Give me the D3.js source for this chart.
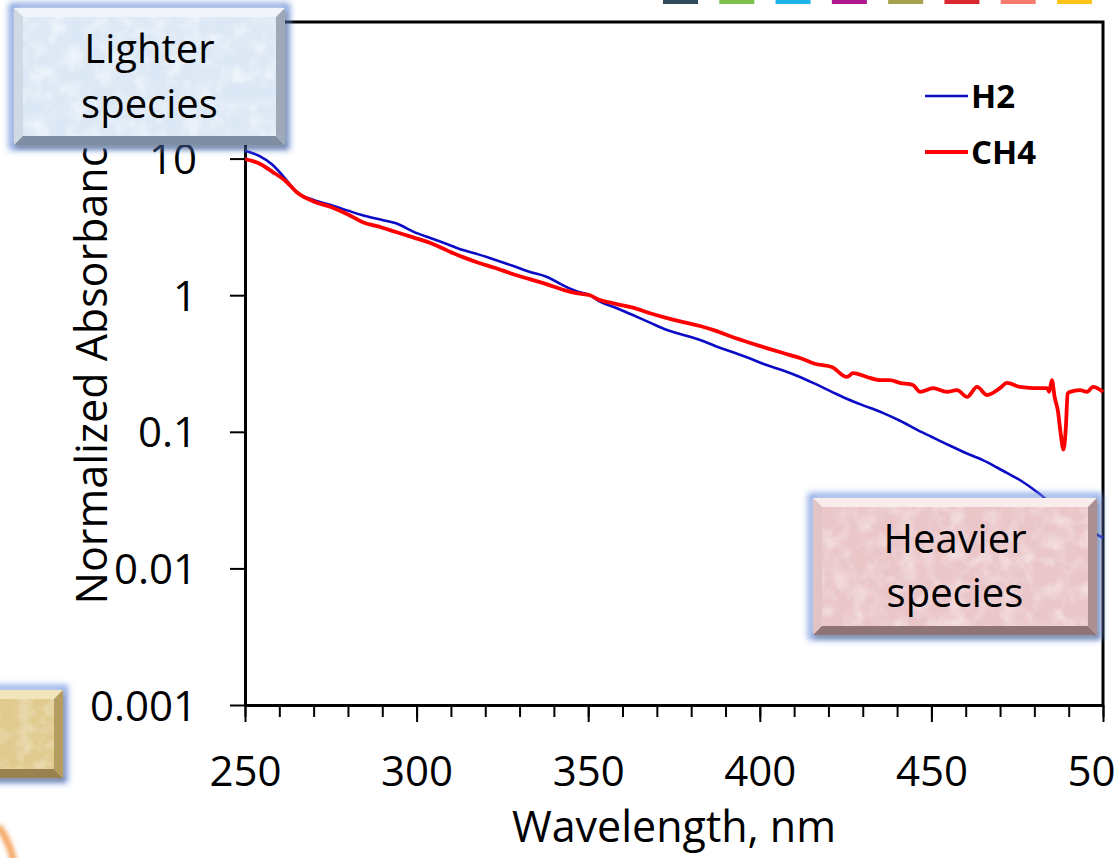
<!DOCTYPE html>
<html>
<head>
<meta charset="utf-8">
<script src="https://cdn.jsdelivr.net/npm/d3@7"></script>
<style>
  html, body { margin: 0; padding: 0; background: #ffffff; }
  svg { display: block; font-family: "Open Sans", "Liberation Sans", sans-serif; }
</style>
</head>
<body>
<svg id="chart" width="1115" height="858"></svg>
<script>
// ---- data -------------------------------------------------------------
const seriesNames = ["H2", "CH4"];
const seriesColors = ["#0b0bc6", "#ff0000"];

// H2 normalized absorbance spectrum
const h2Wavelength = [250, 254, 258, 262, 265, 270, 275, 280, 284, 290, 294, 299, 304, 309, 313.5, 318, 323, 328, 333, 338, 343, 347, 350.5, 353, 358, 363, 368, 373, 378, 382.6, 387, 392, 397, 402, 407, 411.7, 416, 421, 425, 429, 436, 441, 446, 450, 455, 460, 465, 469, 472, 476, 480, 483, 485, 488, 490, 493, 495, 498, 500];
const h2Absorbance = [11.4, 10.5, 9.0, 7.0, 5.7, 4.98, 4.57, 4.16, 3.86, 3.55, 3.36, 2.92, 2.62, 2.36, 2.14, 1.99, 1.81, 1.64, 1.48, 1.36, 1.17, 1.06, 1.0, 0.91, 0.81, 0.716, 0.63, 0.556, 0.51, 0.47, 0.425, 0.384, 0.345, 0.308, 0.28, 0.252, 0.225, 0.196, 0.176, 0.160, 0.137, 0.12, 0.103, 0.092, 0.080, 0.070, 0.062, 0.055, 0.050, 0.044, 0.0375, 0.0327, 0.029, 0.025, 0.0234, 0.021, 0.0198, 0.0178, 0.0167];

// CH4 normalized absorbance spectrum
const ch4Wavelength = [250, 254, 258, 262, 265, 270, 275, 280, 284, 290, 294, 299, 304, 309, 313.5, 318, 323, 328, 333, 338, 343, 347, 350.5, 353, 358, 363, 368, 373, 378, 382.6, 387, 392, 397, 402, 407, 411.7, 416, 421, 425.4, 427.2, 431.2, 435, 437.9, 440.8, 444.6, 446.7, 450.5, 454.5, 457.5, 460.4, 463.3, 466.2, 470, 472, 475.8, 479.6, 483.7, 484.3, 485.1, 485.9, 486.9, 487.6, 488.5, 489.2, 489.7, 490.4, 493.3, 495.3, 497.1, 500];
const ch4Absorbance = [9.93, 9.25, 8.0, 6.8, 5.7, 4.86, 4.42, 3.9, 3.45, 3.12, 2.90, 2.65, 2.41, 2.12, 1.90, 1.73, 1.58, 1.43, 1.31, 1.2, 1.09, 1.03, 1.0, 0.93, 0.865, 0.81, 0.738, 0.68, 0.632, 0.595, 0.55, 0.494, 0.449, 0.41, 0.376, 0.347, 0.315, 0.298, 0.252, 0.269, 0.252, 0.239, 0.239, 0.228, 0.220, 0.196, 0.209, 0.196, 0.202, 0.180, 0.213, 0.186, 0.209, 0.228, 0.213, 0.209, 0.209, 0.196, 0.239, 0.18, 0.14, 0.10, 0.074, 0.11, 0.19, 0.196, 0.202, 0.196, 0.213, 0.196];

const xMajorTicks = [250, 300, 350, 400, 450, 500];
const xMinorTicks = d3.range(250, 501, 10);
const yTicks = [0.001, 0.01, 0.1, 1, 10, 100];
const yTickLabels = ["0.001", "0.01", "0.1", "1", "10", "100"];

const xTitle = "Wavelength, nm";
const yTitle = "Normalized Absorbance";

// decorative colour tabs along the top edge of the slide
const tabColors = ["#2f4b5c", "#7cc24a", "#1fb2e6", "#b0188f", "#a5a24e", "#d7272f", "#f47a6b", "#fcc419"];

// ---- layout -----------------------------------------------------------
const svg = d3.select("#chart");
const W = 1115, H = 858;
const plot = { left: 245, right: 1103, top: 22, bottom: 705 };

const x = d3.scaleLinear().domain([250, 500]).range([plot.left, plot.right]);
const y = d3.scaleLog().domain([0.001, 100]).range([plot.bottom, plot.top]);

svg.append("rect").attr("width", W).attr("height", H).attr("fill", "#ffffff");

// ---- defs: blur + paper texture ---------------------------------------
const defs = svg.append("defs");
defs.append("filter").attr("id", "glow").attr("x", "-20%").attr("y", "-20%").attr("width", "140%").attr("height", "140%")
  .append("feGaussianBlur").attr("stdDeviation", 3);
defs.append("filter").attr("id", "softBlur").attr("x", "-50%").attr("y", "-50%").attr("width", "200%").attr("height", "200%")
  .append("feGaussianBlur").attr("stdDeviation", 2);
const tex = defs.append("filter").attr("id", "paper").attr("x", 0).attr("y", 0).attr("width", "100%").attr("height", "100%");
tex.append("feTurbulence").attr("type", "fractalNoise").attr("baseFrequency", 0.06).attr("numOctaves", 3).attr("seed", 4).attr("result", "noise");
tex.append("feColorMatrix").attr("in", "noise").attr("type", "matrix")
  .attr("values", "0 0 0 0 1  0 0 0 0 1  0 0 0 0 1  2.2 0 0 0 -0.9").attr("result", "spots");
tex.append("feComposite").attr("in", "spots").attr("in2", "SourceGraphic").attr("operator", "in");

// ---- colour tabs at the top --------------------------------------------
const tabX = d3.scaleLinear().domain([0, tabColors.length - 1]).range([663, 1057]);
svg.append("g").selectAll("rect").data(tabColors).join("rect")
  .attr("x", (d, i) => tabX(i)).attr("y", -6).attr("width", 35).attr("height", 10)
  .attr("fill", d => d);

// ---- axes --------------------------------------------------------------
const gx = svg.append("g").attr("transform", `translate(0,${plot.bottom})`);
gx.append("g")
  .call(d3.axisBottom(x).tickValues(xMinorTicks).tickSize(12).tickSizeOuter(0).tickFormat(""))
  .call(g => g.select(".domain").remove())
  .call(g => g.selectAll("line").attr("stroke", "#000").attr("stroke-width", 2));
gx.append("g")
  .call(d3.axisBottom(x).tickValues(xMajorTicks).tickSize(17).tickSizeOuter(0).tickPadding(34).tickFormat(d3.format("d")))
  .call(g => g.select(".domain").attr("stroke", "#000").attr("stroke-width", 3))
  .call(g => g.selectAll("line").attr("stroke", "#000").attr("stroke-width", 2))
  .call(g => g.selectAll("text").attr("fill", "#000").attr("font-size", 42)
    .attr("font-family", "'Open Sans', sans-serif"));

const gy = svg.append("g").attr("transform", `translate(${plot.left},0)`);
gy.call(d3.axisLeft(y).tickValues(yTicks).tickSize(15).tickSizeOuter(0).tickPadding(33)
    .tickFormat((d, i) => yTickLabels[i]))
  .call(g => g.select(".domain").attr("stroke", "#000").attr("stroke-width", 3))
  .call(g => g.selectAll("line").attr("stroke", "#000").attr("stroke-width", 2))
  .call(g => g.selectAll("text").attr("fill", "#000").attr("font-size", 42).attr("dy", "0.36em")
    .attr("font-family", "'Open Sans', sans-serif"));

// plot frame (top and right)
svg.append("path")
  .attr("d", `M${x.range()[0]},${y.range()[1]} H${x.range()[1]} V${y.range()[0]}`)
  .attr("fill", "none").attr("stroke", "#000").attr("stroke-width", 3);

// axis titles
svg.append("text")
  .attr("x", (plot.left + plot.right) / 2).attr("y", 842)
  .attr("text-anchor", "middle").attr("font-size", 43).attr("fill", "#000")
  .text(xTitle);
svg.append("text")
  .attr("transform", `translate(107,${(plot.top + plot.bottom) / 2}) rotate(-90)`)
  .attr("text-anchor", "middle").attr("font-size", 43).attr("fill", "#000")
  .text(yTitle);

// ---- spectra -----------------------------------------------------------
const series = [
  { name: seriesNames[0], color: seriesColors[0], width: 2.6, wl: h2Wavelength, ab: h2Absorbance },
  { name: seriesNames[1], color: seriesColors[1], width: 3.8, wl: ch4Wavelength, ab: ch4Absorbance }
];
const line = d3.line().x(d => x(d[0])).y(d => y(d[1])).curve(d3.curveMonotoneX);
svg.append("g").selectAll("path").data(series).join("path")
  .attr("d", s => line(s.wl.map((w, i) => [w, s.ab[i]])))
  .attr("fill", "none")
  .attr("stroke", s => s.color)
  .attr("stroke-width", s => s.width)
  .attr("stroke-linejoin", "round");

// ---- legend ------------------------------------------------------------
const legendY = d3.scaleLinear().domain([0, 1]).range([96, 152]);
const legend = svg.append("g");
legend.selectAll("line").data(series).join("line")
  .attr("x1", 925).attr("x2", 968)
  .attr("y1", (d, i) => legendY(i)).attr("y2", (d, i) => legendY(i))
  .attr("stroke", d => d.color).attr("stroke-width", d => d.width);
legend.selectAll("text").data(series).join("text")
  .attr("x", 971).attr("y", (d, i) => legendY(i) + 12)
  .attr("font-size", 33).attr("font-weight", "bold").attr("fill", "#000")
  .text(d => d.name);

// ---- bevelled call-out boxes --------------------------------------------
function bevelBox(b) {
  const g = svg.append("g");
  const { x: bx, y: by, w, h } = b;
  const e = 9;
  g.append("rect").attr("x", bx - 2).attr("y", by - 2).attr("width", w + 4).attr("height", h + 4)
    .attr("fill", "none").attr("stroke", b.glow).attr("stroke-width", 6).attr("opacity", 0.8)
    .attr("filter", "url(#glow)");
  g.append("rect").attr("x", bx + 2).attr("y", by + 4).attr("width", w).attr("height", h)
    .attr("fill", "#000").attr("opacity", 0.25).attr("filter", "url(#softBlur)");
  g.append("rect").attr("x", bx).attr("y", by).attr("width", w).attr("height", h).attr("fill", b.fill);
  g.append("rect").attr("x", bx).attr("y", by).attr("width", w).attr("height", h)
    .attr("fill", "#fff").attr("filter", "url(#paper)").attr("opacity", b.texOpacity);
  const poly = pts => pts.map(p => p.join(",")).join(" ");
  g.append("polygon").attr("points", poly([[bx, by], [bx + w, by], [bx + w - e, by + e], [bx + e, by + e]])).attr("fill", b.top);
  g.append("polygon").attr("points", poly([[bx, by], [bx + e, by + e], [bx + e, by + h - e], [bx, by + h]])).attr("fill", b.left);
  g.append("polygon").attr("points", poly([[bx, by + h], [bx + e, by + h - e], [bx + w - e, by + h - e], [bx + w, by + h]])).attr("fill", b.bottom);
  g.append("polygon").attr("points", poly([[bx + w, by], [bx + w, by + h], [bx + w - e, by + h - e], [bx + w - e, by + e]])).attr("fill", b.right);
  if (b.lines) {
    g.selectAll("text.lbl").data(b.lines).join("text").attr("class", "lbl")
      .attr("x", bx + w / 2).attr("y", (d, i) => b.baseline + i * b.lineGap)
      .attr("text-anchor", "middle").attr("font-size", 40).attr("fill", "#000")
      .text(d => d);
  }
}

bevelBox({ x: 14, y: 8, w: 271, h: 137, fill: "#dce8f5", top: "#f1f5fa", left: "#cfd9e4", bottom: "#7f8ea2", right: "#9ea9b8",
  glow: "#5d86d6", texOpacity: 0.55, lines: ["Lighter", "species"], baseline: 63, lineGap: 55 });

bevelBox({ x: 813, y: 498, w: 284, h: 137, fill: "#eac6c9", top: "#f8eced", left: "#e2c4c6", bottom: "#8e7477", right: "#ab9093",
  glow: "#6b8ee0", texOpacity: 0.45, lines: ["Heavier", "species"], baseline: 553, lineGap: 54 });

bevelBox({ x: -30, y: 690, w: 93, h: 88, fill: "#e0ca8e", top: "#f2e5bc", left: "#e6d39e", bottom: "#9a8250", right: "#b59c5f",
  glow: "#6b8ee0", texOpacity: 0.4 });

// corner ornament fragment
svg.append("path").attr("d", "M-2,826 Q9,840 14,862")
  .attr("fill", "none").attr("stroke", "#f5a867").attr("stroke-width", 7).attr("filter", "url(#softBlur)");
</script>
</body>
</html>
